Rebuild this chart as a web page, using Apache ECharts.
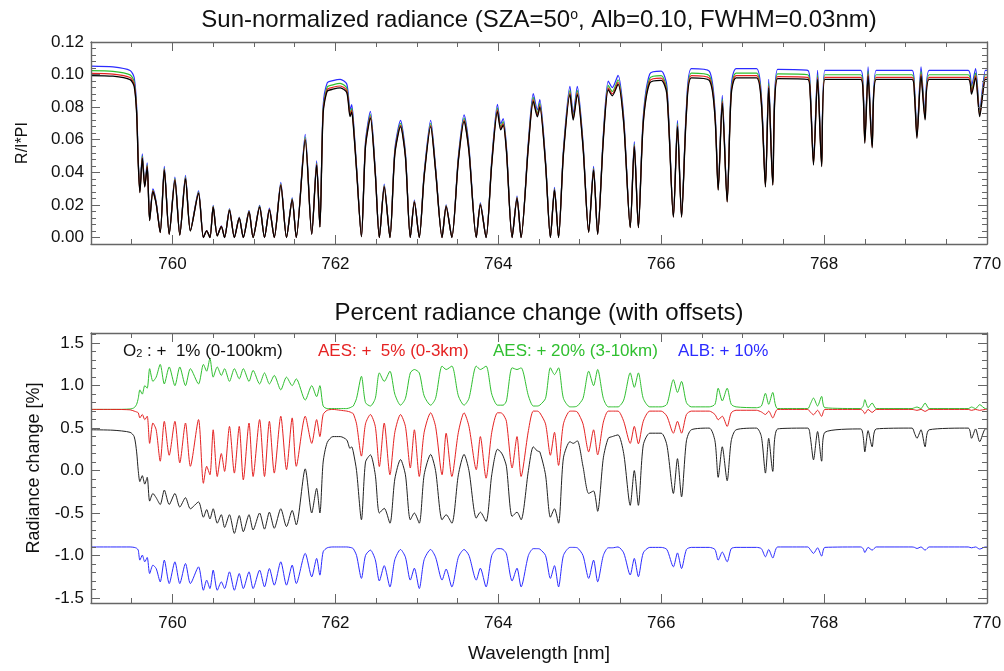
<!DOCTYPE html>
<html>
<head>
<meta charset="utf-8">
<script src="https://cdn.jsdelivr.net/npm/echarts@6/dist/echarts.min.js"></script>
<style>
  html, body { margin: 0; padding: 0; background: #fff; }
  #chart { width: 1004px; height: 671px; }
</style>
</head>
<body>
<div id="chart"></div>
<script>
// wavelength grid [nm] shared by every curve
const wl = [
  759.00, 759.27, 759.48, 759.53, 759.56, 759.58, 759.60, 759.63, 759.66, 759.69,
  759.72, 759.76, 759.80, 759.85, 759.90, 759.96, 760.03, 760.09, 760.16, 760.22,
  760.32, 760.38, 760.42, 760.46, 760.50, 760.55, 760.60, 760.64, 760.70, 760.76,
  760.82, 760.87, 760.94, 760.99, 761.07, 761.13, 761.19, 761.25, 761.33, 761.40,
  761.47, 761.52, 761.63, 761.71, 761.77, 761.81, 761.85, 761.90, 761.97, 762.06,
  762.14, 762.18, 762.20, 762.22, 762.26, 762.32, 762.37, 762.43, 762.49, 762.54,
  762.60, 762.67, 762.73, 762.80, 762.86, 762.92, 762.97, 763.03, 763.09, 763.17,
  763.23, 763.31, 763.36, 763.43, 763.51, 763.58, 763.64, 763.73, 763.78, 763.85,
  763.92, 763.99, 764.03, 764.06, 764.10, 764.17, 764.23, 764.28, 764.37, 764.43,
  764.48, 764.51, 764.58, 764.64, 764.69, 764.74, 764.80, 764.88, 764.92, 764.97,
  765.04, 765.11, 765.17, 765.22, 765.29, 765.35, 765.40, 765.47, 765.54, 765.62,
  765.67, 765.72, 765.78, 765.86, 766.00, 766.07, 766.15, 766.20, 766.25, 766.31,
  766.37, 766.59, 766.66, 766.70, 766.75, 766.81, 766.86, 766.92, 767.17, 767.23,
  767.28, 767.32, 767.37, 767.43, 767.80, 767.83, 767.87, 767.92, 767.97, 768.01,
  768.45, 768.48, 768.50, 768.54, 768.59, 768.64, 769.08, 769.11, 769.14, 769.19,
  769.24, 769.29, 769.77, 769.81, 769.86, 769.91, 769.98, 770.00
];

// top panel: sun-normalized radiance R/I*PI
const radBlack = [
  0.0994, 0.0990, 0.0969, 0.0928, 0.0763, 0.0454, 0.0275, 0.0485, 0.0310, 0.0433,
  0.0104, 0.0282, 0.0207, 0.0030, 0.0413, 0.0020, 0.0350, 0.0015, 0.0360, 0.0040,
  0.0270, 0.0000, 0.0040, 0.0000, 0.0186, 0.0010, 0.0067, 0.0000, 0.0167, 0.0000,
  0.0118, 0.0000, 0.0157, 0.0000, 0.0186, 0.0000, 0.0170, 0.0000, 0.0320, 0.0000,
  0.0230, 0.0000, 0.0598, 0.0020, 0.0444, 0.0064, 0.0763, 0.0897, 0.0910, 0.0918,
  0.0890, 0.0742, 0.0770, 0.0690, 0.0413, 0.0005, 0.0557, 0.0732, 0.0390, 0.0000,
  0.0310, 0.0000, 0.0510, 0.0680, 0.0493, 0.0000, 0.0217, 0.0000, 0.0373, 0.0680,
  0.0410, 0.0000, 0.0190, 0.0000, 0.0470, 0.0712, 0.0527, 0.0000, 0.0200, 0.0000,
  0.0450, 0.0773, 0.0660, 0.0690, 0.0530, 0.0000, 0.0240, 0.0000, 0.0560, 0.0835,
  0.0740, 0.0800, 0.0450, 0.0000, 0.0290, 0.0000, 0.0510, 0.0877, 0.0720, 0.0877,
  0.0556, 0.0032, 0.0413, 0.0020, 0.0600, 0.0907, 0.0870, 0.0940, 0.0700, 0.0060,
  0.0557, 0.0060, 0.0700, 0.0949, 0.0965, 0.0880, 0.0124, 0.0680, 0.0124, 0.0760,
  0.0980, 0.0965, 0.0740, 0.0290, 0.0825, 0.0217, 0.0877, 0.0980, 0.0980, 0.0820,
  0.0310, 0.0918, 0.0320, 0.0975, 0.0970, 0.0870, 0.0444, 0.0970, 0.0435, 0.0970,
  0.0970, 0.0870, 0.0578, 0.0990, 0.0550, 0.0970, 0.0970, 0.0870, 0.0609, 0.0990,
  0.0722, 0.0970, 0.0970, 0.0880, 0.0980, 0.0742, 0.0970, 0.0970
];
const radRed = [
  0.1007, 0.1003, 0.0982, 0.0940, 0.0773, 0.0460, 0.0279, 0.0491, 0.0314, 0.0439,
  0.0105, 0.0286, 0.0210, 0.0030, 0.0418, 0.0020, 0.0355, 0.0015, 0.0365, 0.0041,
  0.0274, 0.0000, 0.0041, 0.0000, 0.0188, 0.0010, 0.0068, 0.0000, 0.0169, 0.0000,
  0.0120, 0.0000, 0.0159, 0.0000, 0.0188, 0.0000, 0.0172, 0.0000, 0.0324, 0.0000,
  0.0233, 0.0000, 0.0606, 0.0020, 0.0450, 0.0065, 0.0773, 0.0909, 0.0922, 0.0930,
  0.0902, 0.0752, 0.0780, 0.0699, 0.0418, 0.0005, 0.0564, 0.0742, 0.0395, 0.0000,
  0.0314, 0.0000, 0.0517, 0.0689, 0.0499, 0.0000, 0.0220, 0.0000, 0.0378, 0.0689,
  0.0415, 0.0000, 0.0192, 0.0000, 0.0476, 0.0721, 0.0534, 0.0000, 0.0203, 0.0000,
  0.0456, 0.0783, 0.0669, 0.0699, 0.0537, 0.0000, 0.0243, 0.0000, 0.0567, 0.0846,
  0.0750, 0.0810, 0.0456, 0.0000, 0.0294, 0.0000, 0.0517, 0.0888, 0.0729, 0.0888,
  0.0563, 0.0032, 0.0418, 0.0020, 0.0608, 0.0919, 0.0881, 0.0952, 0.0709, 0.0061,
  0.0564, 0.0061, 0.0709, 0.0961, 0.0978, 0.0891, 0.0126, 0.0689, 0.0126, 0.0770,
  0.0993, 0.0978, 0.0750, 0.0294, 0.0836, 0.0220, 0.0888, 0.0993, 0.0993, 0.0831,
  0.0314, 0.0930, 0.0324, 0.0988, 0.0983, 0.0881, 0.0450, 0.0983, 0.0441, 0.0983,
  0.0983, 0.0881, 0.0586, 0.1003, 0.0557, 0.0983, 0.0983, 0.0881, 0.0617, 0.1003,
  0.0731, 0.0983, 0.0983, 0.0891, 0.0993, 0.0752, 0.0983, 0.0983
];
const radGreen = [
  0.1024, 0.1020, 0.0998, 0.0956, 0.0786, 0.0468, 0.0283, 0.0500, 0.0319, 0.0446,
  0.0107, 0.0290, 0.0213, 0.0031, 0.0425, 0.0021, 0.0361, 0.0015, 0.0371, 0.0041,
  0.0278, 0.0000, 0.0041, 0.0000, 0.0192, 0.0010, 0.0069, 0.0000, 0.0172, 0.0000,
  0.0122, 0.0000, 0.0162, 0.0000, 0.0192, 0.0000, 0.0175, 0.0000, 0.0330, 0.0000,
  0.0237, 0.0000, 0.0616, 0.0021, 0.0457, 0.0066, 0.0786, 0.0924, 0.0937, 0.0946,
  0.0917, 0.0764, 0.0793, 0.0711, 0.0425, 0.0005, 0.0574, 0.0754, 0.0402, 0.0000,
  0.0319, 0.0000, 0.0525, 0.0700, 0.0508, 0.0000, 0.0224, 0.0000, 0.0384, 0.0700,
  0.0422, 0.0000, 0.0196, 0.0000, 0.0484, 0.0733, 0.0543, 0.0000, 0.0206, 0.0000,
  0.0464, 0.0796, 0.0680, 0.0711, 0.0546, 0.0000, 0.0247, 0.0000, 0.0577, 0.0860,
  0.0762, 0.0824, 0.0464, 0.0000, 0.0299, 0.0000, 0.0525, 0.0903, 0.0742, 0.0903,
  0.0573, 0.0033, 0.0425, 0.0021, 0.0618, 0.0934, 0.0896, 0.0968, 0.0721, 0.0062,
  0.0574, 0.0062, 0.0721, 0.0977, 0.0994, 0.0906, 0.0128, 0.0700, 0.0128, 0.0783,
  0.1009, 0.0994, 0.0762, 0.0299, 0.0850, 0.0224, 0.0903, 0.1009, 0.1009, 0.0845,
  0.0319, 0.0946, 0.0330, 0.1004, 0.0999, 0.0896, 0.0457, 0.0999, 0.0448, 0.0999,
  0.0999, 0.0896, 0.0595, 0.1020, 0.0567, 0.0999, 0.0999, 0.0896, 0.0627, 0.1020,
  0.0744, 0.0999, 0.0999, 0.0906, 0.1009, 0.0764, 0.0999, 0.0999
];
const radBlue = [
  0.1052, 0.1047, 0.1025, 0.0982, 0.0807, 0.0480, 0.0291, 0.0513, 0.0328, 0.0458,
  0.0110, 0.0298, 0.0219, 0.0032, 0.0437, 0.0021, 0.0370, 0.0016, 0.0381, 0.0042,
  0.0286, 0.0000, 0.0042, 0.0000, 0.0197, 0.0011, 0.0071, 0.0000, 0.0177, 0.0000,
  0.0125, 0.0000, 0.0166, 0.0000, 0.0197, 0.0000, 0.0180, 0.0000, 0.0339, 0.0000,
  0.0243, 0.0000, 0.0633, 0.0021, 0.0470, 0.0068, 0.0807, 0.0949, 0.0963, 0.0971,
  0.0942, 0.0785, 0.0815, 0.0730, 0.0437, 0.0005, 0.0589, 0.0774, 0.0413, 0.0000,
  0.0328, 0.0000, 0.0540, 0.0719, 0.0522, 0.0000, 0.0230, 0.0000, 0.0395, 0.0719,
  0.0434, 0.0000, 0.0201, 0.0000, 0.0497, 0.0753, 0.0558, 0.0000, 0.0212, 0.0000,
  0.0476, 0.0818, 0.0698, 0.0730, 0.0561, 0.0000, 0.0254, 0.0000, 0.0592, 0.0883,
  0.0783, 0.0846, 0.0476, 0.0000, 0.0307, 0.0000, 0.0540, 0.0928, 0.0762, 0.0928,
  0.0588, 0.0034, 0.0437, 0.0021, 0.0635, 0.0960, 0.0920, 0.0995, 0.0741, 0.0063,
  0.0589, 0.0063, 0.0741, 0.1004, 0.1021, 0.0931, 0.0131, 0.0719, 0.0131, 0.0804,
  0.1037, 0.1021, 0.0783, 0.0307, 0.0873, 0.0230, 0.0928, 0.1037, 0.1037, 0.0868,
  0.0328, 0.0971, 0.0339, 0.1032, 0.1026, 0.0920, 0.0470, 0.1026, 0.0460, 0.1026,
  0.1026, 0.0920, 0.0612, 0.1047, 0.0582, 0.1026, 0.1026, 0.0920, 0.0644, 0.1047,
  0.0764, 0.1026, 0.1026, 0.0931, 0.1037, 0.0785, 0.1026, 0.1026
];

// bottom panel: percent radiance change, with offsets
const o2Change = [
  0.48, 0.475, 0.45, 0.40, 0.22, 0.00, -0.13, -0.06, -0.16, -0.08,
  -0.36, -0.27, -0.32, -0.40, -0.23, -0.40, -0.27, -0.43, -0.32, -0.45,
  -0.37, -0.55, -0.46, -0.57, -0.45, -0.62, -0.52, -0.67, -0.52, -0.74,
  -0.53, -0.72, -0.52, -0.70, -0.50, -0.69, -0.49, -0.68, -0.45, -0.66,
  -0.47, -0.64, 0.02, -0.50, -0.21, -0.50, 0.10, 0.33, 0.40, 0.40,
  0.36, 0.26, 0.28, 0.22, 0.00, -0.58, 0.10, 0.185, -0.05, -0.50,
  -0.445, -0.62, -0.10, 0.13, -0.05, -0.58, -0.50, -0.62, -0.05, 0.19,
  0.00, -0.58, -0.52, -0.62, -0.05, 0.19, 0.00, -0.56, -0.49, -0.60,
  -0.05, 0.25, 0.22, 0.17, 0.05, -0.54, -0.49, -0.58, 0.00, 0.28,
  0.23, 0.22, -0.05, -0.55, -0.45, -0.62, 0.15, 0.34, 0.32, 0.35,
  0.05, -0.27, -0.24, -0.48, 0.15, 0.38, 0.40, 0.42, 0.20, -0.41,
  0.00, -0.41, 0.30, 0.44, 0.44, 0.30, -0.27, 0.14, -0.31, 0.35,
  0.48, 0.50, 0.35, -0.08, 0.28, -0.12, 0.35, 0.48, 0.50, 0.40,
  -0.03, 0.38, -0.01, 0.49, 0.50, 0.40, 0.126, 0.46, 0.11, 0.45,
  0.49, 0.40, 0.22, 0.47, 0.28, 0.49, 0.50, 0.44, 0.38, 0.48,
  0.28, 0.48, 0.50, 0.38, 0.49, 0.34, 0.49, 0.49
];
const aesLowChange = [
  0.72, 0.72, 0.715, 0.70, 0.69, 0.68, 0.62, 0.66, 0.60, 0.64,
  0.32, 0.56, 0.48, 0.11, 0.58, 0.18, 0.58, 0.09, 0.56, 0.05,
  0.60, -0.15, 0.05, -0.05, 0.48, -0.07, 0.20, -0.01, 0.52, -0.03,
  0.52, -0.11, 0.56, -0.07, 0.60, -0.07, 0.58, -0.03, 0.64, 0.01,
  0.62, 0.05, 0.64, 0.32, 0.60, 0.40, 0.66, 0.71, 0.72, 0.71,
  0.70, 0.69, 0.68, 0.67, 0.55, 0.17, 0.55, 0.66, 0.52, 0.047,
  0.56, -0.05, 0.45, 0.66, 0.52, 0.03, 0.48, -0.07, 0.45, 0.68,
  0.52, -0.05, 0.44, -0.07, 0.45, 0.68, 0.52, 0.01, 0.40, -0.09,
  0.45, 0.68, 0.68, 0.66, 0.58, 0.03, 0.40, -0.07, 0.47, 0.70,
  0.70, 0.68, 0.55, 0.18, 0.45, 0.06, 0.55, 0.70, 0.70, 0.69,
  0.55, 0.22, 0.48, 0.185, 0.57, 0.70, 0.70, 0.70, 0.58, 0.32,
  0.52, 0.315, 0.58, 0.70, 0.70, 0.64, 0.44, 0.58, 0.44, 0.66,
  0.70, 0.70, 0.66, 0.598, 0.64, 0.52, 0.68, 0.71, 0.71, 0.69,
  0.66, 0.70, 0.62, 0.72, 0.72, 0.69, 0.657, 0.71, 0.638, 0.72,
  0.72, 0.70, 0.669, 0.72, 0.685, 0.72, 0.72, 0.715, 0.709, 0.72,
  0.697, 0.72, 0.72, 0.709, 0.72, 0.709, 0.72, 0.72
];
const aesMidChange = [
  0.72, 0.72, 0.725, 0.74, 0.78, 0.85, 0.95, 0.90, 1.00, 0.97,
  1.20, 1.05, 1.10, 1.25, 1.02, 1.22, 1.00, 1.22, 1.00, 1.20,
  1.02, 1.25, 1.17, 1.32, 1.10, 1.22, 1.12, 1.20, 1.05, 1.20,
  1.08, 1.20, 1.05, 1.18, 1.02, 1.15, 1.02, 1.12, 0.95, 1.10,
  1.00, 1.08, 0.83, 1.00, 0.87, 1.00, 0.76, 0.73, 0.73, 0.73,
  0.73, 0.74, 0.75, 0.76, 0.85, 1.11, 0.80, 0.76, 0.85, 1.15,
  1.05, 1.17, 0.90, 0.77, 0.85, 1.15, 1.19, 1.15, 0.88, 0.77,
  0.85, 1.23, 1.19, 1.23, 0.88, 0.77, 0.85, 1.23, 1.19, 1.23,
  0.90, 0.77, 0.77, 0.77, 0.82, 1.21, 1.19, 1.21, 0.88, 0.76,
  0.76, 0.77, 0.85, 1.21, 1.13, 1.21, 0.85, 0.75, 0.75, 0.76,
  0.85, 1.17, 1.00, 1.19, 0.85, 0.75, 0.75, 0.75, 0.83, 1.15,
  0.98, 1.15, 0.85, 0.75, 0.75, 0.78, 1.07, 0.92, 1.05, 0.80,
  0.75, 0.75, 0.78, 0.97, 0.82, 0.97, 0.78, 0.75, 0.74, 0.76,
  0.91, 0.78, 0.92, 0.73, 0.73, 0.78, 0.854, 0.76, 0.874, 0.74,
  0.73, 0.76, 0.835, 0.74, 0.795, 0.73, 0.73, 0.74, 0.748, 0.73,
  0.795, 0.73, 0.73, 0.748, 0.73, 0.776, 0.73, 0.73
];
const albChange = [
  -0.90, -0.90, -0.90, -0.905, -0.915, -0.937, -1.055, -0.996, -1.075, -1.024,
  -1.213, -1.114, -1.154, -1.311, -1.055, -1.331, -1.075, -1.331, -1.095, -1.331,
  -1.134, -1.41, -1.291, -1.39, -1.173, -1.41, -1.311, -1.39, -1.193, -1.41,
  -1.213, -1.39, -1.193, -1.39, -1.173, -1.37, -1.154, -1.35, -1.075, -1.35,
  -1.114, -1.331, -0.976, -1.252, -1.035, -1.232, -0.957, -0.91, -0.90, -0.90,
  -0.90, -0.905, -0.91, -0.92, -1.0, -1.27, -1.0, -0.937, -1.05, -1.30,
  -1.12, -1.37, -1.05, -0.93, -1.02, -1.29, -1.15, -1.39, -1.05, -0.93,
  -1.02, -1.29, -1.16, -1.37, -1.02, -0.93, -1.0, -1.29, -1.15, -1.37,
  -1.0, -0.92, -0.92, -0.93, -0.98, -1.30, -1.15, -1.37, -1.0, -0.92,
  -0.92, -0.925, -1.0, -1.27, -1.12, -1.37, -1.0, -0.905, -0.905, -0.91,
  -1.0, -1.27, -1.055, -1.31, -1.0, -0.91, -0.91, -0.90, -0.97, -1.23,
  -1.035, -1.25, -0.97, -0.905, -0.905, -0.93, -1.134, -0.97, -1.154, -0.93,
  -0.905, -0.905, -0.93, -1.055, -0.96, -1.075, -0.92, -0.905, -0.905, -0.92,
  -1.016, -0.93, -1.03, -0.90, -0.90, -0.93, -0.976, -0.91, -1.008, -0.905,
  -0.90, -0.92, -0.965, -0.905, -0.937, -0.90, -0.90, -0.905, -0.918, -0.90,
  -0.937, -0.90, -0.90, -0.91, -0.90, -0.925, -0.90, -0.90
];

// tick labels
const xTicks = [760, 762, 764, 766, 768, 770];
const topYTicks = [0, 0.02, 0.04, 0.06, 0.08, 0.10, 0.12];
const bottomYTicks = [-1.5, -1.0, -0.5, 0.0, 0.5, 1.0, 1.5];

const FONT = "'Liberation Sans', Arial, Helvetica, sans-serif";
const FRAME = '#666';

// minor tick positions (axis decoration only)
function steps(from, to, step) {
  const out = [];
  for (let v = from; v <= to + step / 2; v += step) {
    out.push(Math.round(v * 10000) / 10000);
  }
  return out;
}

function toPairs(values) {
  return wl.map((x, i) => [x, values[i]]);
}

// four-sided IDL-like frame: major + minor ticks on both sides, labels on one
function frameAxes(dim, gridIndex, min, max, majors, minors, fmt, nameOpt) {
  const sides = dim === 'x' ? ['bottom', 'top'] : ['left', 'right'];
  const axes = [];
  sides.forEach((position, s) => {
    [majors, minors].forEach((ticks, k) => {
      const main = s === 0 && k === 0;
      const axis = {
        type: 'value',
        gridIndex: gridIndex,
        position: position,
        min: min,
        max: max,
        axisLine: { show: k === 0, onZero: false, lineStyle: { color: FRAME, width: 1.4 } },
        axisTick: {
          show: true, inside: true, length: k === 0 ? 9 : 5,
          customValues: ticks, lineStyle: { color: FRAME, width: 1 }
        },
        axisLabel: {
          show: main, customValues: majors, formatter: fmt,
          color: '#111', fontSize: 17, fontFamily: FONT,
          margin: dim === 'x' ? 12 : 7
        },
        splitLine: { show: false },
        z: 5
      };
      if (main && nameOpt) {
        axis.name = nameOpt.text;
        axis.nameLocation = 'middle';
        axis.nameGap = nameOpt.gap;
        if (dim === 'y') axis.nameRotate = 90;
        axis.nameTextStyle = { fontSize: nameOpt.size, fontFamily: FONT, color: '#111' };
      }
      axes.push(axis);
    });
  });
  return axes;
}

function lineSeries(values, color, panel, width) {
  return {
    type: 'line',
    data: toPairs(values),
    xAxisIndex: panel * 4,
    yAxisIndex: panel * 4,
    showSymbol: false,
    smooth: 0.25,
    animation: false,
    lineStyle: { color: color, width: width },
    itemStyle: { color: color },
    z: 3
  };
}

const xMinor = steps(759, 770, 0.5);
const fmtX = v => String(Math.round(v));

const option = {
  backgroundColor: '#fff',
  animation: false,
  grid: [
    { left: 91, right: 17, top: 42, height: 202, containLabel: false, outerBoundsMode: 'none' },
    { left: 91, right: 17, top: 333, height: 270, containLabel: false, outerBoundsMode: 'none' }
  ],
  xAxis: [].concat(
    frameAxes('x', 0, 759, 770, xTicks, xMinor, fmtX, null),
    frameAxes('x', 1, 759, 770, xTicks, xMinor, fmtX, { text: 'Wavelength [nm]', gap: 41, size: 19 })
  ),
  yAxis: [].concat(
    frameAxes('y', 0, -0.004, 0.12, topYTicks, steps(-0.004, 0.12, 0.004),
      v => v.toFixed(2), { text: 'R/I*PI', gap: 60, size: 16 }),
    frameAxes('y', 1, -1.56, 1.62, bottomYTicks, steps(-1.5, 1.6, 0.1),
      v => v.toFixed(1), { text: 'Radiance change [%]', gap: 48, size: 18 })
  ),
  series: [
    lineSeries(radBlue, '#2b2bff', 0, 1.2),
    lineSeries(radGreen, '#2fbf2f', 0, 1.2),
    lineSeries(radRed, '#e52222', 0, 1.2),
    lineSeries(radBlack, '#000000', 0, 1.3),
    lineSeries(aesMidChange, '#2fbf2f', 1, 1),
    lineSeries(aesLowChange, '#e52222', 1, 1),
    lineSeries(o2Change, '#222222', 1, 1),
    lineSeries(albChange, '#2b2bff', 1, 1)
  ],
  graphic: [
    {
      type: 'text', x: 539, y: 20,
      style: {
        text: 'Sun-normalized radiance (SZA=50{sup|o}, Alb=0.10, FWHM=0.03nm)',
        align: 'center', verticalAlign: 'middle',
        font: '24px ' + FONT, fill: '#111',
        rich: { sup: { fontSize: 14, fontFamily: FONT, verticalAlign: 'top', fill: '#111' } }
      }
    },
    {
      type: 'text', x: 539, y: 313,
      style: {
        text: 'Percent radiance change (with offsets)',
        align: 'center', verticalAlign: 'middle',
        font: '24px ' + FONT, fill: '#111'
      }
    },
    {
      type: 'text', x: 123, y: 351, z: 10,
      style: {
        text: 'O{sub|2} : +  1% (0-100km)', verticalAlign: 'middle',
        font: '17px ' + FONT, fill: '#111',
        rich: { sub: { fontSize: 11, fontFamily: FONT, verticalAlign: 'bottom', fill: '#111' } }
      }
    },
    {
      type: 'text', x: 318, y: 351, z: 10,
      style: { text: 'AES: +  5% (0-3km)', verticalAlign: 'middle', font: '17px ' + FONT, fill: '#e52222' }
    },
    {
      type: 'text', x: 493, y: 351, z: 10,
      style: { text: 'AES: + 20% (3-10km)', verticalAlign: 'middle', font: '17px ' + FONT, fill: '#2fbf2f' }
    },
    {
      type: 'text', x: 678, y: 351, z: 10,
      style: { text: 'ALB: + 10%', verticalAlign: 'middle', font: '17px ' + FONT, fill: '#2b2bff' }
    }
  ]
};

const myChart = echarts.init(document.getElementById('chart'), null, { renderer: 'canvas' });
myChart.setOption(option);
</script>
</body>
</html>
